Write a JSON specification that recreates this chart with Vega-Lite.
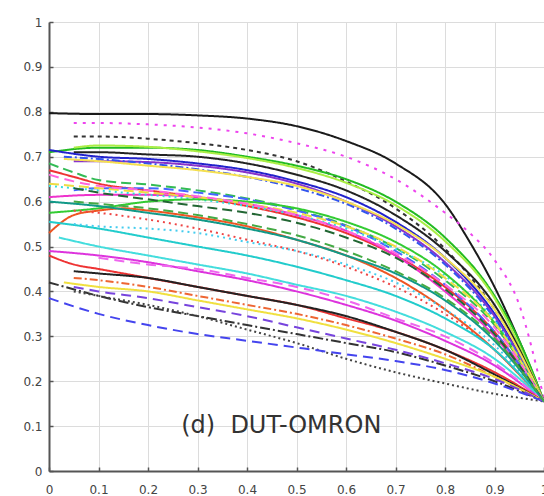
{
"$schema": "https://vega.github.io/schema/vega-lite/v6.json",
"width": 495, "height": 449,
"autosize": {"type": "none"},
"padding": {"left": 49, "top": 22, "right": 0, "bottom": 25},
"config": {"view": {"stroke": null}, "font": "DejaVu Sans"},
"layer": [
{
"data": {"values": [
{"s":"A","r":0,"p":0.797},{"s":"A","r":0.1,"p":0.795},{"s":"A","r":0.2,"p":0.795},{"s":"A","r":0.3,"p":0.792},{"s":"A","r":0.4,"p":0.785},{"s":"A","r":0.5,"p":0.768},{"s":"A","r":0.6,"p":0.735},{"s":"A","r":0.7,"p":0.685},{"s":"A","r":0.8,"p":0.595},{"s":"A","r":0.85,"p":0.51},{"s":"A","r":0.9,"p":0.41},{"s":"A","r":0.95,"p":0.29},{"s":"A","r":1,"p":0.155},
{"s":"B","r":0.05,"p":0.775},{"s":"B","r":0.1,"p":0.775},{"s":"B","r":0.2,"p":0.772},{"s":"B","r":0.3,"p":0.765},{"s":"B","r":0.4,"p":0.752},{"s":"B","r":0.5,"p":0.73},{"s":"B","r":0.6,"p":0.70},{"s":"B","r":0.7,"p":0.65},{"s":"B","r":0.8,"p":0.575},{"s":"B","r":0.85,"p":0.53},{"s":"B","r":0.9,"p":0.47},{"s":"B","r":0.95,"p":0.37},{"s":"B","r":1,"p":0.16},
{"s":"C","r":0.05,"p":0.745},{"s":"C","r":0.1,"p":0.745},{"s":"C","r":0.2,"p":0.74},{"s":"C","r":0.3,"p":0.73},{"s":"C","r":0.4,"p":0.715},{"s":"C","r":0.5,"p":0.69},{"s":"C","r":0.6,"p":0.645},{"s":"C","r":0.7,"p":0.585},{"s":"C","r":0.8,"p":0.495},{"s":"C","r":0.9,"p":0.36},{"s":"C","r":0.95,"p":0.27},{"s":"C","r":1,"p":0.155},
{"s":"D","r":0,"p":0.71},{"s":"D","r":0.1,"p":0.72},{"s":"D","r":0.2,"p":0.72},{"s":"D","r":0.3,"p":0.715},{"s":"D","r":0.4,"p":0.70},{"s":"D","r":0.5,"p":0.68},{"s":"D","r":0.6,"p":0.65},{"s":"D","r":0.7,"p":0.60},{"s":"D","r":0.8,"p":0.52},{"s":"D","r":0.9,"p":0.39},{"s":"D","r":0.95,"p":0.29},{"s":"D","r":1,"p":0.155},
{"s":"E","r":0.05,"p":0.72},{"s":"E","r":0.1,"p":0.725},{"s":"E","r":0.2,"p":0.722},{"s":"E","r":0.3,"p":0.712},{"s":"E","r":0.4,"p":0.697},{"s":"E","r":0.5,"p":0.675},{"s":"E","r":0.6,"p":0.642},{"s":"E","r":0.7,"p":0.592},{"s":"E","r":0.8,"p":0.512},{"s":"E","r":0.9,"p":0.385},{"s":"E","r":1,"p":0.155},
{"s":"F","r":0.05,"p":0.71},{"s":"F","r":0.1,"p":0.71},{"s":"F","r":0.2,"p":0.705},{"s":"F","r":0.3,"p":0.70},{"s":"F","r":0.4,"p":0.685},{"s":"F","r":0.5,"p":0.66},{"s":"F","r":0.6,"p":0.625},{"s":"F","r":0.7,"p":0.57},{"s":"F","r":0.8,"p":0.49},{"s":"F","r":0.9,"p":0.37},{"s":"F","r":1,"p":0.155},
{"s":"G","r":0,"p":0.715},{"s":"G","r":0.1,"p":0.70},{"s":"G","r":0.2,"p":0.695},{"s":"G","r":0.3,"p":0.685},{"s":"G","r":0.4,"p":0.67},{"s":"G","r":0.5,"p":0.645},{"s":"G","r":0.6,"p":0.61},{"s":"G","r":0.7,"p":0.555},{"s":"G","r":0.8,"p":0.475},{"s":"G","r":0.9,"p":0.35},{"s":"G","r":1,"p":0.155},
{"s":"H","r":0.05,"p":0.69},{"s":"H","r":0.1,"p":0.69},{"s":"H","r":0.2,"p":0.688},{"s":"H","r":0.3,"p":0.68},{"s":"H","r":0.4,"p":0.665},{"s":"H","r":0.5,"p":0.64},{"s":"H","r":0.6,"p":0.60},{"s":"H","r":0.7,"p":0.545},{"s":"H","r":0.8,"p":0.465},{"s":"H","r":0.9,"p":0.345},{"s":"H","r":1,"p":0.155},
{"s":"I","r":0.03,"p":0.70},{"s":"I","r":0.1,"p":0.695},{"s":"I","r":0.2,"p":0.685},{"s":"I","r":0.3,"p":0.672},{"s":"I","r":0.4,"p":0.655},{"s":"I","r":0.5,"p":0.63},{"s":"I","r":0.6,"p":0.595},{"s":"I","r":0.7,"p":0.54},{"s":"I","r":0.8,"p":0.46},{"s":"I","r":0.9,"p":0.34},{"s":"I","r":1,"p":0.155},
{"s":"J","r":0.03,"p":0.695},{"s":"J","r":0.1,"p":0.69},{"s":"J","r":0.2,"p":0.68},{"s":"J","r":0.3,"p":0.67},{"s":"J","r":0.4,"p":0.655},{"s":"J","r":0.5,"p":0.635},{"s":"J","r":0.6,"p":0.60},{"s":"J","r":0.7,"p":0.55},{"s":"J","r":0.8,"p":0.475},{"s":"J","r":0.9,"p":0.36},{"s":"J","r":1,"p":0.155},
{"s":"K","r":0,"p":0.67},{"s":"K","r":0.05,"p":0.655},{"s":"K","r":0.1,"p":0.64},{"s":"K","r":0.2,"p":0.625},{"s":"K","r":0.3,"p":0.61},{"s":"K","r":0.4,"p":0.59},{"s":"K","r":0.5,"p":0.565},{"s":"K","r":0.6,"p":0.53},{"s":"K","r":0.7,"p":0.48},{"s":"K","r":0.8,"p":0.41},{"s":"K","r":0.9,"p":0.31},{"s":"K","r":1,"p":0.155},
{"s":"L","r":0,"p":0.685},{"s":"L","r":0.05,"p":0.665},{"s":"L","r":0.1,"p":0.648},{"s":"L","r":0.2,"p":0.638},{"s":"L","r":0.3,"p":0.625},{"s":"L","r":0.4,"p":0.607},{"s":"L","r":0.5,"p":0.582},{"s":"L","r":0.6,"p":0.547},{"s":"L","r":0.7,"p":0.497},{"s":"L","r":0.8,"p":0.425},{"s":"L","r":0.9,"p":0.325},{"s":"L","r":1,"p":0.155},
{"s":"M","r":0,"p":0.61},{"s":"M","r":0.1,"p":0.615},{"s":"M","r":0.2,"p":0.615},{"s":"M","r":0.3,"p":0.61},{"s":"M","r":0.4,"p":0.595},{"s":"M","r":0.5,"p":0.57},{"s":"M","r":0.6,"p":0.535},{"s":"M","r":0.7,"p":0.48},{"s":"M","r":0.8,"p":0.40},{"s":"M","r":0.9,"p":0.30},{"s":"M","r":1,"p":0.155},
{"s":"N","r":0.05,"p":0.625},{"s":"N","r":0.1,"p":0.63},{"s":"N","r":0.2,"p":0.63},{"s":"N","r":0.3,"p":0.62},{"s":"N","r":0.4,"p":0.605},{"s":"N","r":0.5,"p":0.58},{"s":"N","r":0.6,"p":0.545},{"s":"N","r":0.7,"p":0.49},{"s":"N","r":0.8,"p":0.415},{"s":"N","r":0.9,"p":0.31},{"s":"N","r":1,"p":0.155},
{"s":"O","r":0,"p":0.635},{"s":"O","r":0.1,"p":0.625},{"s":"O","r":0.2,"p":0.615},{"s":"O","r":0.3,"p":0.605},{"s":"O","r":0.4,"p":0.59},{"s":"O","r":0.5,"p":0.57},{"s":"O","r":0.6,"p":0.54},{"s":"O","r":0.7,"p":0.495},{"s":"O","r":0.8,"p":0.435},{"s":"O","r":0.9,"p":0.335},{"s":"O","r":1,"p":0.155},
{"s":"P","r":0,"p":0.575},{"s":"P","r":0.1,"p":0.585},{"s":"P","r":0.2,"p":0.60},{"s":"P","r":0.3,"p":0.605},{"s":"P","r":0.4,"p":0.60},{"s":"P","r":0.5,"p":0.585},{"s":"P","r":0.6,"p":0.555},{"s":"P","r":0.7,"p":0.51},{"s":"P","r":0.8,"p":0.44},{"s":"P","r":0.9,"p":0.33},{"s":"P","r":1,"p":0.155},
{"s":"Q","r":0,"p":0.64},{"s":"Q","r":0.1,"p":0.63},{"s":"Q","r":0.2,"p":0.62},{"s":"Q","r":0.3,"p":0.61},{"s":"Q","r":0.4,"p":0.595},{"s":"Q","r":0.5,"p":0.575},{"s":"Q","r":0.6,"p":0.545},{"s":"Q","r":0.7,"p":0.50},{"s":"Q","r":0.8,"p":0.43},{"s":"Q","r":0.9,"p":0.33},{"s":"Q","r":1,"p":0.155},
{"s":"R","r":0,"p":0.66},{"s":"R","r":0.05,"p":0.645},{"s":"R","r":0.1,"p":0.635},{"s":"R","r":0.2,"p":0.625},{"s":"R","r":0.3,"p":0.612},{"s":"R","r":0.4,"p":0.595},{"s":"R","r":0.5,"p":0.57},{"s":"R","r":0.6,"p":0.535},{"s":"R","r":0.7,"p":0.485},{"s":"R","r":0.8,"p":0.415},{"s":"R","r":0.9,"p":0.32},{"s":"R","r":1,"p":0.155},
{"s":"S","r":0.05,"p":0.63},{"s":"S","r":0.1,"p":0.62},{"s":"S","r":0.2,"p":0.605},{"s":"S","r":0.3,"p":0.59},{"s":"S","r":0.4,"p":0.575},{"s":"S","r":0.5,"p":0.553},{"s":"S","r":0.6,"p":0.52},{"s":"S","r":0.7,"p":0.475},{"s":"S","r":0.8,"p":0.405},{"s":"S","r":0.9,"p":0.305},{"s":"S","r":1,"p":0.155},
{"s":"T","r":0,"p":0.53},{"s":"T","r":0.05,"p":0.57},{"s":"T","r":0.1,"p":0.58},{"s":"T","r":0.15,"p":0.585},{"s":"T","r":0.2,"p":0.58},{"s":"T","r":0.3,"p":0.565},{"s":"T","r":0.4,"p":0.545},{"s":"T","r":0.5,"p":0.515},{"s":"T","r":0.6,"p":0.48},{"s":"T","r":0.7,"p":0.43},{"s":"T","r":0.8,"p":0.36},{"s":"T","r":0.9,"p":0.27},{"s":"T","r":1,"p":0.155},
{"s":"U","r":0.05,"p":0.58},{"s":"U","r":0.1,"p":0.575},{"s":"U","r":0.2,"p":0.56},{"s":"U","r":0.3,"p":0.54},{"s":"U","r":0.4,"p":0.515},{"s":"U","r":0.5,"p":0.49},{"s":"U","r":0.6,"p":0.455},{"s":"U","r":0.7,"p":0.41},{"s":"U","r":0.8,"p":0.35},{"s":"U","r":0.9,"p":0.27},{"s":"U","r":1,"p":0.155},
{"s":"V","r":0,"p":0.555},{"s":"V","r":0.1,"p":0.54},{"s":"V","r":0.2,"p":0.52},{"s":"V","r":0.3,"p":0.50},{"s":"V","r":0.4,"p":0.48},{"s":"V","r":0.5,"p":0.455},{"s":"V","r":0.6,"p":0.425},{"s":"V","r":0.7,"p":0.39},{"s":"V","r":0.8,"p":0.34},{"s":"V","r":0.9,"p":0.27},{"s":"V","r":1,"p":0.155},
{"s":"W","r":0.05,"p":0.55},{"s":"W","r":0.1,"p":0.545},{"s":"W","r":0.2,"p":0.54},{"s":"W","r":0.3,"p":0.53},{"s":"W","r":0.4,"p":0.51},{"s":"W","r":0.5,"p":0.49},{"s":"W","r":0.6,"p":0.46},{"s":"W","r":0.7,"p":0.42},{"s":"W","r":0.8,"p":0.36},{"s":"W","r":0.9,"p":0.28},{"s":"W","r":1,"p":0.155},
{"s":"X","r":0.02,"p":0.52},{"s":"X","r":0.1,"p":0.50},{"s":"X","r":0.2,"p":0.48},{"s":"X","r":0.3,"p":0.46},{"s":"X","r":0.4,"p":0.44},{"s":"X","r":0.5,"p":0.415},{"s":"X","r":0.6,"p":0.39},{"s":"X","r":0.7,"p":0.355},{"s":"X","r":0.8,"p":0.31},{"s":"X","r":0.9,"p":0.25},{"s":"X","r":1,"p":0.155},
{"s":"Y","r":0,"p":0.49},{"s":"Y","r":0.1,"p":0.48},{"s":"Y","r":0.2,"p":0.465},{"s":"Y","r":0.3,"p":0.445},{"s":"Y","r":0.4,"p":0.425},{"s":"Y","r":0.5,"p":0.40},{"s":"Y","r":0.6,"p":0.37},{"s":"Y","r":0.7,"p":0.335},{"s":"Y","r":0.8,"p":0.29},{"s":"Y","r":0.9,"p":0.235},{"s":"Y","r":1,"p":0.155},
{"s":"Z","r":0.1,"p":0.475},{"s":"Z","r":0.2,"p":0.46},{"s":"Z","r":0.3,"p":0.45},{"s":"Z","r":0.4,"p":0.43},{"s":"Z","r":0.5,"p":0.41},{"s":"Z","r":0.6,"p":0.38},{"s":"Z","r":0.7,"p":0.34},{"s":"Z","r":0.8,"p":0.30},{"s":"Z","r":0.9,"p":0.24},{"s":"Z","r":1,"p":0.155},
{"s":"AA","r":0,"p":0.48},{"s":"AA","r":0.05,"p":0.46},{"s":"AA","r":0.1,"p":0.45},{"s":"AA","r":0.2,"p":0.43},{"s":"AA","r":0.3,"p":0.41},{"s":"AA","r":0.4,"p":0.39},{"s":"AA","r":0.5,"p":0.37},{"s":"AA","r":0.6,"p":0.34},{"s":"AA","r":0.7,"p":0.31},{"s":"AA","r":0.8,"p":0.27},{"s":"AA","r":0.9,"p":0.22},{"s":"AA","r":1,"p":0.155},
{"s":"AB","r":0.05,"p":0.445},{"s":"AB","r":0.1,"p":0.44},{"s":"AB","r":0.2,"p":0.43},{"s":"AB","r":0.3,"p":0.41},{"s":"AB","r":0.4,"p":0.39},{"s":"AB","r":0.5,"p":0.37},{"s":"AB","r":0.6,"p":0.345},{"s":"AB","r":0.7,"p":0.31},{"s":"AB","r":0.8,"p":0.27},{"s":"AB","r":0.9,"p":0.215},{"s":"AB","r":1,"p":0.155},
{"s":"AC","r":0.05,"p":0.43},{"s":"AC","r":0.1,"p":0.425},{"s":"AC","r":0.2,"p":0.41},{"s":"AC","r":0.3,"p":0.39},{"s":"AC","r":0.4,"p":0.37},{"s":"AC","r":0.5,"p":0.35},{"s":"AC","r":0.6,"p":0.325},{"s":"AC","r":0.7,"p":0.295},{"s":"AC","r":0.8,"p":0.26},{"s":"AC","r":0.9,"p":0.21},{"s":"AC","r":1,"p":0.155},
{"s":"AD","r":0.03,"p":0.42},{"s":"AD","r":0.1,"p":0.41},{"s":"AD","r":0.2,"p":0.40},{"s":"AD","r":0.3,"p":0.38},{"s":"AD","r":0.4,"p":0.36},{"s":"AD","r":0.5,"p":0.34},{"s":"AD","r":0.6,"p":0.315},{"s":"AD","r":0.7,"p":0.285},{"s":"AD","r":0.8,"p":0.25},{"s":"AD","r":0.9,"p":0.21},{"s":"AD","r":1,"p":0.155},
{"s":"AE","r":0,"p":0.42},{"s":"AE","r":0.1,"p":0.39},{"s":"AE","r":0.2,"p":0.365},{"s":"AE","r":0.3,"p":0.345},{"s":"AE","r":0.4,"p":0.325},{"s":"AE","r":0.5,"p":0.305},{"s":"AE","r":0.6,"p":0.285},{"s":"AE","r":0.7,"p":0.265},{"s":"AE","r":0.8,"p":0.235},{"s":"AE","r":0.9,"p":0.20},{"s":"AE","r":1,"p":0.155},
{"s":"AF","r":0.05,"p":0.40},{"s":"AF","r":0.1,"p":0.39},{"s":"AF","r":0.2,"p":0.37},{"s":"AF","r":0.3,"p":0.345},{"s":"AF","r":0.4,"p":0.315},{"s":"AF","r":0.5,"p":0.285},{"s":"AF","r":0.6,"p":0.25},{"s":"AF","r":0.7,"p":0.22},{"s":"AF","r":0.8,"p":0.195},{"s":"AF","r":0.9,"p":0.172},{"s":"AF","r":1,"p":0.155},
{"s":"AG","r":0,"p":0.385},{"s":"AG","r":0.1,"p":0.35},{"s":"AG","r":0.2,"p":0.325},{"s":"AG","r":0.3,"p":0.305},{"s":"AG","r":0.4,"p":0.29},{"s":"AG","r":0.5,"p":0.275},{"s":"AG","r":0.6,"p":0.26},{"s":"AG","r":0.7,"p":0.245},{"s":"AG","r":0.8,"p":0.225},{"s":"AG","r":0.9,"p":0.195},{"s":"AG","r":1,"p":0.155},
{"s":"AH","r":0.05,"p":0.41},{"s":"AH","r":0.1,"p":0.40},{"s":"AH","r":0.2,"p":0.385},{"s":"AH","r":0.3,"p":0.365},{"s":"AH","r":0.4,"p":0.345},{"s":"AH","r":0.5,"p":0.32},{"s":"AH","r":0.6,"p":0.295},{"s":"AH","r":0.7,"p":0.27},{"s":"AH","r":0.8,"p":0.24},{"s":"AH","r":0.9,"p":0.205},{"s":"AH","r":1,"p":0.155},
{"s":"AI","r":0,"p":0.60},{"s":"AI","r":0.1,"p":0.59},{"s":"AI","r":0.2,"p":0.575},{"s":"AI","r":0.3,"p":0.56},{"s":"AI","r":0.4,"p":0.54},{"s":"AI","r":0.5,"p":0.515},{"s":"AI","r":0.6,"p":0.48},{"s":"AI","r":0.7,"p":0.44},{"s":"AI","r":0.8,"p":0.38},{"s":"AI","r":0.9,"p":0.29},{"s":"AI","r":1,"p":0.155},
{"s":"AJ","r":0.05,"p":0.60},{"s":"AJ","r":0.1,"p":0.595},{"s":"AJ","r":0.2,"p":0.585},{"s":"AJ","r":0.3,"p":0.57},{"s":"AJ","r":0.4,"p":0.55},{"s":"AJ","r":0.5,"p":0.525},{"s":"AJ","r":0.6,"p":0.49},{"s":"AJ","r":0.7,"p":0.445},{"s":"AJ","r":0.8,"p":0.385},{"s":"AJ","r":0.9,"p":0.295},{"s":"AJ","r":1,"p":0.155}
]},
"mark": {"type": "line", "interpolate": "monotone", "strokeWidth": 2},
"encoding": {
"x": {"field": "r", "type": "quantitative", "scale": {"domain": [0, 1], "nice": false},
 "axis": {"values": [0,0.1,0.2,0.3,0.4,0.5,0.6,0.7,0.8,0.9,1], "format": "~g", "title": null, "grid": true, "gridColor": "#dcdcdc", "domainColor": "#555", "domainWidth": 2, "tickColor": "#555", "tickSize": -4, "tickWidth": 1.5, "labelFontSize": 12, "labelColor": "#444", "labelPadding": 17, "labelFlush": false}},
"y": {"field": "p", "type": "quantitative", "scale": {"domain": [0, 1], "nice": false},
 "axis": {"values": [0,0.1,0.2,0.3,0.4,0.5,0.6,0.7,0.8,0.9,1], "format": "~g", "title": null, "grid": true, "gridColor": "#dcdcdc", "domainColor": "#555", "domainWidth": 2, "tickColor": "#555", "tickSize": -4, "tickWidth": 1.5, "labelFontSize": 12, "labelColor": "#444", "labelPadding": 11, "labelFlush": false}},
"color": {"field": "s", "type": "nominal", "legend": null, "scale": {
 "domain": ["A","B","C","D","E","F","G","H","I","J","K","L","M","N","O","P","Q","R","S","T","U","V","W","X","Y","Z","AA","AB","AC","AD","AE","AF","AG","AH","AI","AJ"],
 "range": ["#1a1a1a","#ee44ee","#333333","#22bb22","#aaee44","#222222","#2222cc","#8833cc","#3355ee","#f5e050","#ee3333","#33bb55","#ee33cc","#4466ff","#33dddd","#33cc33","#eedd44","#ff66dd","#226633","#ee5522","#ee4444","#22cccc","#44ccee","#44dddd","#dd33dd","#ee66ee","#ee3333","#222222","#ee6633","#f0e040","#333333","#444444","#4444ee","#7744dd","#119988","#44aa44"]}},
"strokeDash": {"field": "s", "type": "nominal", "legend": null, "scale": {
 "domain": ["A","B","C","D","E","F","G","H","I","J","K","L","M","N","O","P","Q","R","S","T","U","V","W","X","Y","Z","AA","AB","AC","AD","AE","AF","AG","AH","AI","AJ"],
 "range": [[1,0],[3,6],[4,4],[1,0],[1,0],[1,0],[1,0],[1,0],[8,3,2,3],[1,0],[1,0],[10,5],[1,0],[10,5],[2,4],[1,0],[10,5],[10,6],[10,5],[1,0],[2,4],[1,0],[2,4],[1,0],[1,0],[10,6],[1,0],[1,0],[8,3,2,3],[1,0],[10,3,2,3],[2,3],[10,6],[10,6],[1,0],[10,5]]}}
}
},
{
"data": {"values": [{"t": "(d)\u00a0\u00a0DUT-OMRON", "r": 0.267, "p": 0.1}]},
"mark": {"type": "text", "align": "left", "baseline": "middle", "fontSize": 24, "color": "#333333", "font": "DejaVu Sans"},
"encoding": {
"x": {"field": "r", "type": "quantitative"},
"y": {"field": "p", "type": "quantitative"},
"text": {"field": "t"}
}
}
]
}
